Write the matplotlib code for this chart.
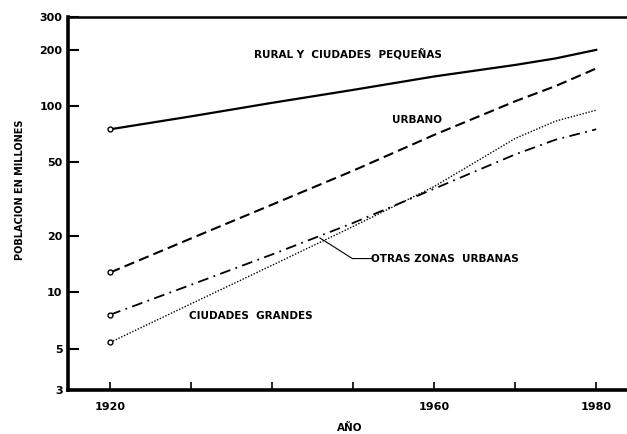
import matplotlib
matplotlib.use("Agg")
import matplotlib.pyplot as plt
from matplotlib.ticker import FixedLocator, NullLocator

# data (millions)
years = [1920, 1930, 1940, 1950, 1960, 1970, 1975, 1980]
rural = [75, 88, 104, 122, 144, 166, 180, 200]
urbano = [12.8, 19.5, 29.6, 45, 70, 106, 128, 159]
otras = [7.6, 11, 16, 23.6, 36, 55, 66, 75]
grandes = [5.4, 8.7, 14, 22.6, 37, 67, 83, 95]

yticks = [3, 5, 10, 20, 50, 100, 200, 300]
xticks = [1920, 1930, 1940, 1950, 1960, 1970, 1980]
xlabels = ["1920", "", "", "", "1960", "", "1980"]

plt.rcParams["font.family"] = ["DejaVu Sans"]
plt.rcParams["font.weight"] = "bold"

fig = plt.figure(figsize=(6.27, 4.34), dpi=100)
ax = fig.add_axes([0.1085, 0.1014, 0.8915, 0.8594])

kw = dict(color="black", marker="o", markersize=3.5, markerfacecolor="white",
          markevery=[0])
ax.plot(years, rural, ls="-", lw=1.6, **kw)
ax.plot(years, urbano, ls=(0, (5, 2.5)), lw=1.5, **kw)
ax.plot(years, otras, ls=(0, (6, 3, 1, 3)), lw=1.3, **kw)
ax.plot(years, grandes, ls=(0, (1, 1.2)), lw=1.0, **kw)

ax.set_yscale("log")
ax.set_ylim(3, 300)
ax.set_xlim(1914.8, 1983.8)
ax.yaxis.set_major_locator(FixedLocator(yticks))
ax.yaxis.set_minor_locator(NullLocator())
ax.set_yticklabels([str(v) for v in yticks])
ax.set_xticks(xticks)
ax.set_xticklabels(xlabels)
ax.tick_params(axis="y", direction="in", length=8, width=1.5, labelsize=8, pad=4)
ax.tick_params(axis="x", direction="in", length=6, width=1.2, labelsize=8, pad=9)

for s in ["left", "bottom"]:
    ax.spines[s].set_linewidth(2.6)
ax.spines["top"].set_linewidth(1.8)
ax.spines["right"].set_visible(False)

tkw = dict(fontsize=7.5, fontweight="bold", ha="center", va="center")
ax.text(1949.4, 190, "RURAL Y  CIUDADES  PEQUEÑAS", **tkw)
ax.text(1957.9, 84, "URBANO", **tkw)
ax.text(1961.3, 15.2, "OTRAS ZONAS  URBANAS", **tkw)
ax.text(1937.4, 7.5, "CIUDADES  GRANDES", **tkw)

# leader line for OTRAS ZONAS URBANAS
ax.plot([1945.9, 1949.9, 1952.4], [19.6, 15.2, 15.2], color="black", lw=0.8)

fig.text(0.032, 0.562, "POBLACION EN MILLONES", fontsize=7, fontweight="bold",
         rotation=90, ha="center", va="center")
fig.text(0.558, 0.013, "AÑO", fontsize=7.5, fontweight="bold", ha="center", va="center")

fig.savefig("out.png", dpi=100)
